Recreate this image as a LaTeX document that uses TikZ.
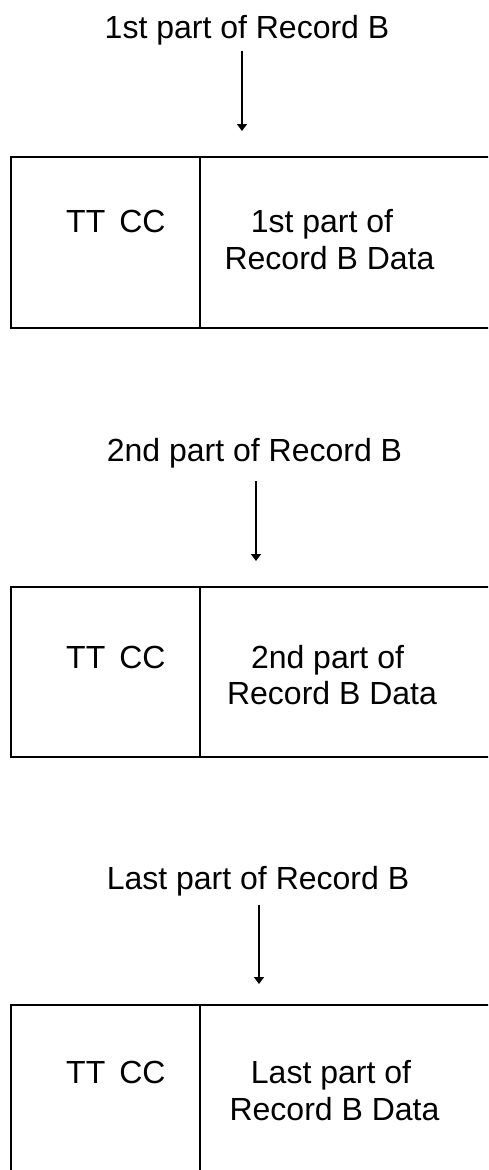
\documentclass[tikz,border=0pt]{standalone}
\usepackage{fontspec}
\setmainfont{Liberation Sans}
\usetikzlibrary{arrows.meta}
\begin{document}
\begin{tikzpicture}[x=1pt,y=-1pt,
  lbl/.style={anchor=base,inner sep=0pt,font=\fontsize{32}{37}\selectfont},
  cell/.style={draw,line width=2pt,rectangle,inner sep=0pt,anchor=north west,minimum width=620pt},
  conn/.style={line width=1.8pt,-{Triangle[width=10pt,length=7pt]}},
  divider/.style={line width=2pt}]
\useasboundingbox (0,0) rectangle (488,1170);
\clip (0,0) rectangle (488,1170);
\fill[white] (0,0) rectangle (488,1170);

% ---- block 1
\node[lbl] (t1) at (247,38) {1st part of Record B};
\coordinate (a1s) at (242,51);
\coordinate (a1e) at (242,131);
\draw[conn] (a1s) -- (a1e);
\node[cell,minimum height=171pt] (b1) at (9.5,156) {};
\draw[divider] (200,156) -- (200,327);
\node[lbl,anchor=base west] (h1) at (66,232) {TT\hspace{14pt}CC};
\node[lbl,anchor=base] (d1a) at (322,232) {1st part of};
\node[lbl,anchor=base] (d1b) at (329.5,269) {Record B Data};

% ---- block 2
\node[lbl] (t2) at (254.5,461) {2nd part of Record B};
\coordinate (a2s) at (256,481);
\coordinate (a2e) at (256,561);
\draw[conn] (a2s) -- (a2e);
\node[cell,minimum height=170pt] (b2) at (9.5,585.5) {};
\draw[divider] (200,585.5) -- (200,755.5);
\node[lbl,anchor=base west] (h2) at (66,668) {TT\hspace{14pt}CC};
\node[lbl,anchor=base] (d2a) at (327.5,668) {2nd part of};
\node[lbl,anchor=base] (d2b) at (332,704) {Record B Data};

% ---- block 3
\node[lbl] (t3) at (258,889) {Last part of Record B};
\coordinate (a3s) at (259,905);
\coordinate (a3e) at (259,984);
\draw[conn] (a3s) -- (a3e);
\node[cell,minimum height=200pt] (b3) at (9.5,1004) {};
\draw[divider] (200,1004) -- (200,1204);
\node[lbl,anchor=base west] (h3) at (66,1083) {TT\hspace{14pt}CC};
\node[lbl,anchor=base] (d3a) at (331,1083) {Last part of};
\node[lbl,anchor=base] (d3b) at (334.5,1120) {Record B Data};
\end{tikzpicture}
\end{document}
